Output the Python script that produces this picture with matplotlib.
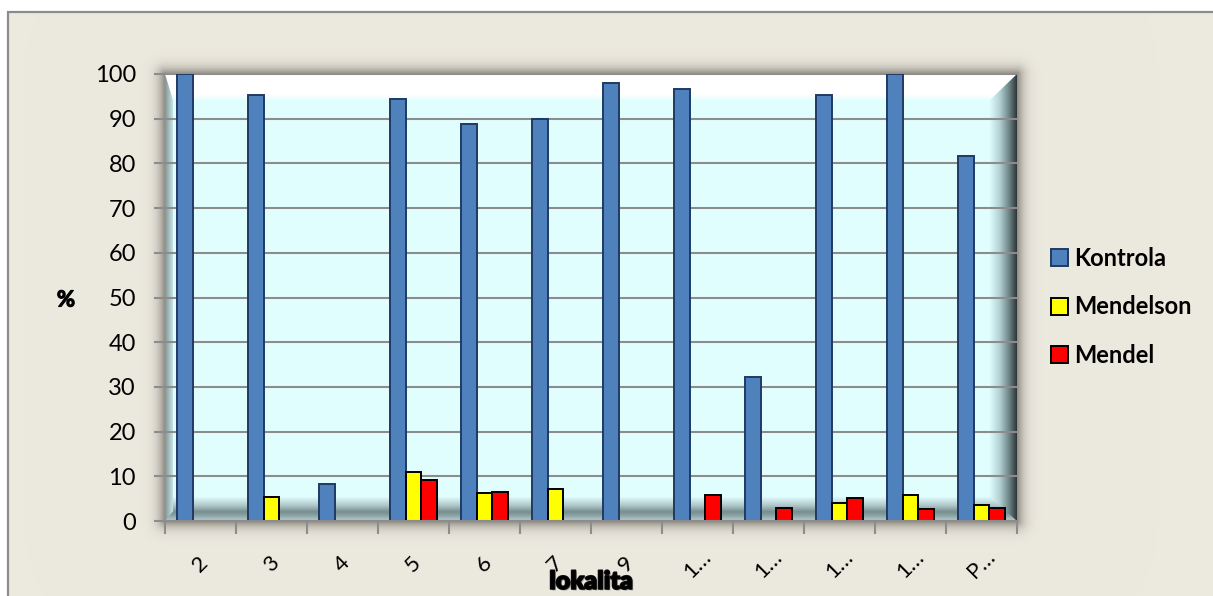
import numpy as np
import matplotlib
matplotlib.use("Agg")
import matplotlib.pyplot as plt
from matplotlib.patches import Rectangle, Polygon, Patch
from matplotlib.colors import LinearSegmentedColormap
import matplotlib.patheffects as pe

plt.rcParams['font.family'] = ['Lato', 'DejaVu Sans']

# ---- data ----
categories = ['2', '3', '4', '5', '6', '7', '9', '1\u2026', '1\u2026', '1\u2026', '1\u2026', 'P\u2026']
kontrola = [100, 95.2, 8.3, 94.4, 88.9, 90.0, 98.0, 96.6, 32.2, 95.2, 100, 81.7]
mendelson = [0, 5.4, 0, 11.0, 6.3, 7.2, 0, 0, 0, 4.0, 5.9, 3.5]
mendel = [0, 0, 0, 9.2, 6.4, 0, 0, 5.8, 2.8, 5.1, 2.7, 2.8]
series_names = ['Kontrola', 'Mendelson', 'Mendel']
yticks = list(range(0, 101, 10))

W, H = 1213, 596
fig = plt.figure(figsize=(W / 100, H / 100), dpi=100)
fig.patch.set_facecolor('white')

# plot area in pixels
px0, px1, py0, py1 = 165, 1017, 74, 521  # left, right, top, bottom (image coords)

# ---- background with frame + shadow ----
bg = fig.add_axes([0, 0, 1, 1], zorder=-10)
bg.set_axis_off()
yy, xx = np.mgrid[0:H, 0:W] + 0.5
img = np.ones((H, W, 3))
beige = np.array([0xEC, 0xE9, 0xDF]) / 255
inside = (xx >= 8) & (yy >= 12)
img[inside] = beige
dx = np.maximum(np.maximum(px0 - xx, xx - px1), 0)
dy = np.maximum(np.maximum(py0 - yy, yy - py1), 0)
d = np.sqrt(dx ** 2 + dy ** 2)
a = 0.6 * np.exp(-(d / 7.0) ** 1.2)
a[(dx == 0) & (dy == 0)] = 0.6
shadow_col = np.array([0.33, 0.31, 0.28])
img = img * (1 - a[..., None]) + shadow_col * a[..., None]
img[~inside] = 1.0
bg.imshow(img, extent=[0, 1, 0, 1], aspect='auto', interpolation='bilinear')
bg.add_patch(Rectangle((8 / W, -0.1), 1.2, 1.1 - 12 / H, transform=bg.transAxes,
                       fill=False, edgecolor='#8C8C8C', linewidth=1.6))
bg.set_xlim(0, 1)
bg.set_ylim(0, 1)

# ---- main axes ----
ax = fig.add_axes([px0 / W, 1 - py1 / H, (px1 - px0) / W, (py1 - py0) / H])
ax.set_facecolor('#E1FEFF')

lw_ = 8 / (px1 - px0)
rw_ = 27 / (px1 - px0)
th_ = 26 / (py1 - py0)
bh_ = 24 / (py1 - py0)


def grad_band(poly, stops, horizontal, extent):
    cmap = LinearSegmentedColormap.from_list('g', stops)
    n = 256
    g = np.linspace(0, 1, n)
    arr = g[None, :] if horizontal else g[:, None]
    im = ax.imshow(arr, cmap=cmap, extent=extent, transform=ax.transAxes,
                   aspect='auto', zorder=0.5, origin='lower', interpolation='bilinear')
    p = Polygon(poly, closed=True, transform=ax.transAxes, facecolor='none', edgecolor='none')
    ax.add_patch(p)
    im.set_clip_path(p)


# top band (white)
grad_band([(0, 1), (1, 1), (1 - rw_, 1 - th_), (lw_, 1 - th_)],
          [(0, '#E8FDFE'), (0.2, '#FFFFFF'), (1, '#FFFFFF')], False, (0, 1, 1 - th_, 1))
# right band
grad_band([(1, 1), (1, 0), (1 - rw_, bh_ * 0.4), (1 - rw_, 1 - th_)],
          [(0, '#DDFBFC'), (0.35, '#B5D3D5'), (0.7, '#6F8789'), (1, '#2B3536')], True,
          (1 - rw_, 1, 0, 1))
# bottom band
grad_band([(0, 0), (1, 0), (1 - rw_, bh_), (lw_, bh_)],
          [(0, '#BCD0D1'), (0.2, '#91A8AA'), (0.38, '#768D8F'), (0.65, '#AFC7C9'), (1, '#DFFAFB')],
          False, (0, 1, 0, bh_))
# left band
grad_band([(0, 0), (lw_, bh_ * 0.4), (lw_, 1 - th_), (0, 1)],
          [(0, '#7F9698'), (1, '#C8E4E6')], True, (0, lw_, 0, 1))

x = np.arange(len(categories))
bw = 0.225
colors = ['#4F81BD', '#FFFF00', '#FF0000']
edges = ['#1F3A63', '#000000', '#000000']
for i, (vals, c, e) in enumerate(zip([kontrola, mendelson, mendel], colors, edges)):
    lws = [1.4 if v > 0 else 0 for v in vals]
    ax.bar(x + (i - 1) * bw, vals, bw, color=c, edgecolor=e, linewidth=lws, zorder=3)

ax.set_xlim(-0.5, len(categories) - 0.5)
ax.set_ylim(0, 100)
ax.set_yticks(yticks)
ax.set_yticklabels([str(t) for t in yticks], fontsize=17)
ax.yaxis.grid(True, color='#8C8C8C', linewidth=1.5, zorder=1)
ax.set_axisbelow(False)
for gl in ax.get_ygridlines():
    gl.set_zorder(1)
ax.tick_params(axis='y', length=8, width=1.5, color='#8C8C8C', pad=13)

ax.set_xticks(x)
ax.set_xticklabels(categories, rotation=45, ha='center', va='center', fontsize=16)
ax.set_xticks(np.arange(-0.5, len(categories)), minor=True)
ax.tick_params(axis='x', which='major', length=0, pad=31)
ax.tick_params(axis='x', which='minor', length=9, width=1.5, color='#8C8C8C')

for s in ['top', 'right', 'left']:
    ax.spines[s].set_visible(False)
ax.spines['bottom'].set_color('#8C8C8C')
ax.spines['bottom'].set_linewidth(1.5)
ax.spines['bottom'].set_zorder(4)

# axis titles
fig.text(591 / W, 1 - 582 / H, 'lokalita', ha='center', va='center', fontsize=18,
         fontweight='heavy', color='black',
         path_effects=[pe.SimplePatchShadow(offset=(1, -1), shadow_rgbFace='#777777', alpha=0.6),
                       pe.withStroke(linewidth=1.2, foreground='#111111')])
fig.text(66 / W, 1 - 300 / H, '%', ha='center', va='center', fontsize=16, fontweight='bold',
         path_effects=[pe.withStroke(linewidth=0.8, foreground='#000000')])

# legend
handles = [Patch(facecolor=c, edgecolor=e, linewidth=1.4) for c, e in zip(colors, edges)]
fig.legend(handles, series_names, loc='upper left', bbox_to_anchor=(1051 / W, 1 - 247 / H),
           frameon=False, prop={'weight': 'bold', 'size': 17}, handlelength=0.7,
           handleheight=0.7, handletextpad=0.3, labelspacing=1.08, borderpad=0,
           borderaxespad=0)

fig.savefig('out.png', dpi=100, facecolor=fig.get_facecolor())
